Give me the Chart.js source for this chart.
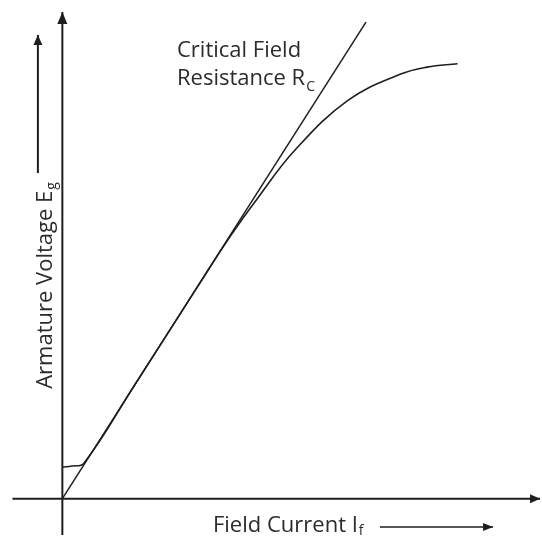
<!DOCTYPE html>
<html>
<head>
<meta charset="utf-8">
<script src="https://cdn.jsdelivr.net/npm/chart.js@4"></script>
<style>
    body { margin: 0; background: #fff; }
    #wrap { width: 542px; height: 537px; }
</style>
</head>
<body>
<div id="wrap"><canvas id="chart" width="542" height="537"></canvas></div>
<script>
// magnetisation curve (open circuit characteristic)
const fieldCurrent = [0, 0.20, 0.45, 1.50, 2.80, 3.50, 4.06, 4.85, 5.96, 7.04, 7.60, 8.24];
const armatureVoltage = [0.66, 0.68, 0.74, 2.36, 4.39, 5.47, 6.25, 7.27, 8.31, 8.85, 9.00, 9.07];

// critical field resistance line
const criticalX = [0, 6.33];
const criticalY = [0, 9.94];

// axes and arrows
const xAxisX = [-1.04, 9.96];
const yAxisY = [-0.76, 10.15];
const yArrowX = -0.51;
const yArrowY = [6.79, 9.67];
const xArrowX = [6.62, 8.98];
const xArrowY = -0.59;

// labels
const labelCritical = 'Critical Field';
const labelResistance = 'Resistance R';
const labelResistanceSub = 'C';
const labelX = 'Field Current I';
const labelXSub = 'f';
const labelY = 'Armature Voltage E';
const labelYSub = 'g';

const ink = '#1e1e1e';
const fontFamily = '"Open Sans", Lato, sans-serif';

function toPoints(xs, ys) {
    return xs.map((x, i) => ({ x: x, y: ys[i] }));
}

/**
 * draws arrow heads on flagged datasets and the text labels
 */
const sketchPlugin = {
    id: 'sketch',
    afterDatasetsDraw(chart) {
        const ctx = chart.ctx;
        const sx = chart.scales.x;
        const sy = chart.scales.y;
        chart.data.datasets.forEach((ds) => {
            if (!ds.arrow) return;
            const n = ds.data.length;
            const a = ds.data[n - 2], b = ds.data[n - 1];
            const x1 = sx.getPixelForValue(a.x), y1 = sy.getPixelForValue(a.y);
            const x2 = sx.getPixelForValue(b.x), y2 = sy.getPixelForValue(b.y);
            const ang = Math.atan2(y2 - y1, x2 - x1);
            const len = ds.arrow.len, half = ds.arrow.half;
            ctx.save();
            ctx.translate(x2, y2);
            ctx.rotate(ang);
            ctx.beginPath();
            ctx.moveTo(0, 0);
            ctx.lineTo(-len, -half);
            ctx.lineTo(-len, half);
            ctx.closePath();
            ctx.fillStyle = ink;
            ctx.fill();
            ctx.restore();
        });

        ctx.save();
        ctx.fillStyle = '#2b2b2b';
        ctx.textBaseline = 'alphabetic';
        ctx.textAlign = 'left';
        const big = '22px ' + fontFamily;
        const small = '14px ' + fontFamily;

        function withSub(text, sub, px, py, subDrop) {
            ctx.font = big;
            ctx.fillText(text, px, py);
            const w = ctx.measureText(text).width;
            ctx.font = small;
            ctx.fillText(sub, px + w + 1, py + subDrop);
        }

        ctx.font = big;
        ctx.fillText(labelCritical, sx.getPixelForValue(2.39), sy.getPixelForValue(9.21));
        withSub(labelResistance, labelResistanceSub, sx.getPixelForValue(2.39), sy.getPixelForValue(8.63), 6);
        withSub(labelX, labelXSub, sx.getPixelForValue(3.14), sy.getPixelForValue(-0.70), 3);

        ctx.translate(sx.getPixelForValue(-0.22), sy.getPixelForValue(2.29));
        ctx.rotate(-Math.PI / 2);
        withSub(labelY, labelYSub, 0, 0, 4);
        ctx.restore();
    }
};

const lineStyle = {
    showLine: true,
    pointRadius: 0,
    borderColor: ink,
    backgroundColor: ink,
    fill: false
};

const config = {
    type: 'scatter',
    data: {
        datasets: [
            Object.assign({}, lineStyle, { data: toPoints(xAxisX, [0, 0]), borderWidth: 2, arrow: { len: 10, half: 4.5 } }),
            Object.assign({}, lineStyle, { data: toPoints([0, 0], yAxisY), borderWidth: 2, arrow: { len: 12, half: 5 } }),
            Object.assign({}, lineStyle, { data: toPoints([yArrowX, yArrowX], yArrowY), borderWidth: 2, arrow: { len: 10, half: 4.5 } }),
            Object.assign({}, lineStyle, { data: toPoints(xArrowX, [xArrowY, xArrowY]), borderWidth: 1.5, arrow: { len: 10, half: 4 } }),
            Object.assign({}, lineStyle, { data: toPoints(criticalX, criticalY), borderWidth: 1.5 }),
            Object.assign({}, lineStyle, { data: toPoints(fieldCurrent, armatureVoltage), borderWidth: 1.6, tension: 0.4 })
        ]
    },
    options: {
        responsive: false,
        animation: false,
        layout: { padding: 0 },
        scales: {
            x: { type: 'linear', min: -1.3, max: 10, display: false },
            y: { type: 'linear', min: -0.8, max: 10.4, display: false }
        },
        plugins: {
            legend: { display: false },
            tooltip: { enabled: false }
        }
    },
    plugins: [sketchPlugin]
};

new Chart(document.getElementById('chart'), config);
</script>
</body>
</html>
